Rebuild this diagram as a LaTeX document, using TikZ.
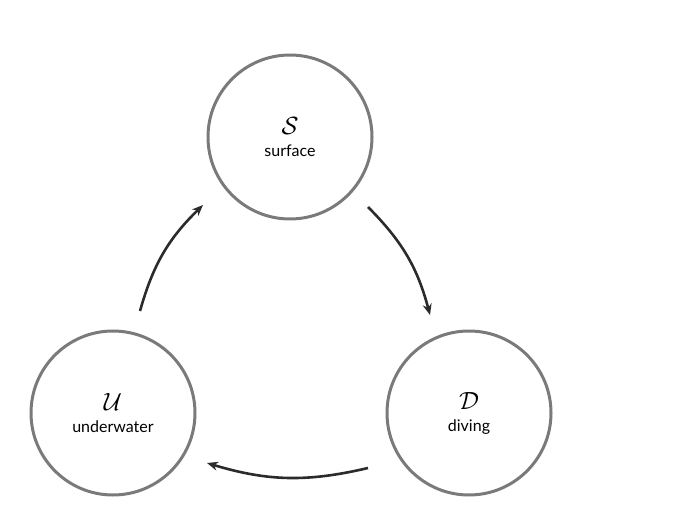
\documentclass[tikz,border=0pt]{standalone}
\usepackage{fontspec}
\setmainfont{Lato}
\usetikzlibrary{arrows.meta}
\definecolor{ringgray}{HTML}{7A7A7A}
\definecolor{arrowdark}{HTML}{2B2B2B}
\begin{document}
\begin{tikzpicture}[x=1pt,y=-1pt]
  \tikzset{state/.style={circle,draw=ringgray,line width=3pt,minimum size=164pt,
      align=center,font=\fontsize{16}{20}\selectfont},
    trans/.style={draw=arrowdark,line width=2.6pt,-{Stealth[length=11pt,width=9pt]}}}
  \useasboundingbox (0,0) rectangle (698,526);
  \node[state] (s) at (290,137) {\fontsize{26}{26}\selectfont$\mathcal{S}$\\[2pt]surface};
  \node[state] (u) at (113,413) {\fontsize{26}{26}\selectfont$\mathcal{U}$\\[2pt]underwater};
  \node[state] (d) at (469,413) {\fontsize{26}{26}\selectfont$\mathcal{D}$\\[2pt]diving};
  \coordinate (s1) at (368,207);
  \coordinate (d0) at (430,315);
  \coordinate (d1) at (368,468);
  \coordinate (u0) at (207,463);
  \coordinate (u1) at (140,311);
  \coordinate (s0) at (203,205);
  \draw[trans] (s1) to[bend left=15] (d0);
  \draw[trans] (d1) to[bend left=15] (u0);
  \draw[trans] (u1) to[bend left=15] (s0);
\end{tikzpicture}
\end{document}
